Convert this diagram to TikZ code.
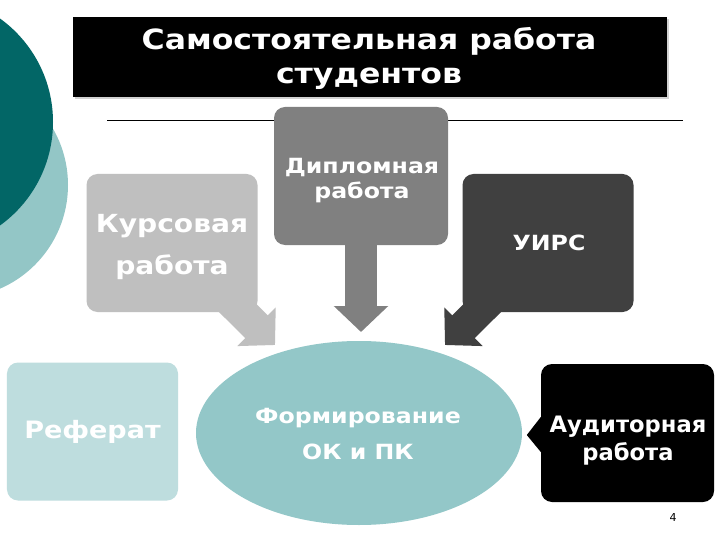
\documentclass[tikz,border=0pt]{standalone}
\usepackage{fontspec}
\setmainfont{DejaVu Sans}
\newfontfamily\widefont{DejaVu Sans}[FakeStretch=1.13]
\usetikzlibrary{shapes.geometric,arrows.meta,shadows,calc}
\definecolor{tealdark}{RGB}{2,102,102}
\definecolor{teallight}{RGB}{147,198,198}
\definecolor{tealpale}{RGB}{190,221,222}
\definecolor{ellfill}{RGB}{147,199,200}
\definecolor{gkurs}{RGB}{191,191,191}
\definecolor{gdipl}{RGB}{128,128,128}
\definecolor{guirs}{RGB}{64,64,64}
\tikzset{
  rbox/.style={rectangle, rounded corners=11bp, draw=none, minimum width=171bp, minimum height=138bp, inner sep=0pt},
  wtext/.style={text=white, align=center, inner sep=0pt},
  fatarrow/.style={line width=32bp, -{Triangle[width=53bp,length=26bp]}},
}
\begin{document}
\begin{tikzpicture}[x=1bp,y=-1bp]
\useasboundingbox (0,0) rectangle (720,540);
\fill[white] (0,0) rectangle (720,540);
% decorative circles
\begin{scope}
  \clip (0,0) rectangle (720,540);
  \fill[teallight] (-45,185) circle[radius=113];
  \fill[tealdark] (-74.5,122) circle[radius=127.5];
\end{scope}
% title
\node[rectangle, fill=black, minimum width=594bp, minimum height=80bp, inner sep=0pt,
      drop shadow={shadow xshift=2bp, shadow yshift=-2bp, opacity=0.35}] (title) at (370,57) {};
\node[wtext, font=\widefont\fontsize{28}{35}\selectfont\bfseries] (titletext) at (369,58.5)
  {Самостоятельная работа\\студентов};
% rule
\coordinate (ruleL) at (107,120);
\coordinate (ruleR) at (683,120);
\draw[line width=0.8bp] (ruleL) -- (ruleR);
% arrow tips
\coordinate (ktip) at (275,345);
\coordinate (dtip) at (361,332);
\coordinate (utip) at (445,345);
% boxes
\coordinate (kc) at (172,243);
\coordinate (dc) at (361,176);
\coordinate (uc) at (548,243);
\draw[fatarrow, gkurs] (kc) -- (ktip);
\draw[fatarrow, gdipl] (dc) -- (dtip);
\draw[fatarrow, guirs] (uc) -- (utip);
\node[rbox, fill=gkurs] (kurs) at (kc) {};
\node[rbox, fill=gdipl, minimum width=174bp] (dipl) at (dc) {};
\node[rbox, fill=guirs] (uirs) at (uc) {};
\node[wtext, font=\widefont\fontsize{25}{42}\selectfont\bfseries] (kurstext) at (172,247) {Курсовая\\работа};
\node[wtext, font=\widefont\fontsize{21}{25}\selectfont\bfseries] (dipltext) at (362,181) {Дипломная\\работа};
\node[wtext, font=\widefont\fontsize{21}{25}\selectfont\bfseries] (uirstext) at (549,243) {УИРС};
% centre ellipse
\node[ellipse, fill=ellfill, minimum width=326bp, minimum height=184bp, inner sep=0pt] (form) at (359,433) {};
\node[wtext, font=\widefont\fontsize{21}{37}\selectfont\bfseries] (formtext) at (358,434) {Формирование\\ОК и ПК};
% Referat
\node[rbox, fill=tealpale] (ref) at (92.5,431.5) {};
\node[wtext, font=\widefont\fontsize{24}{28}\selectfont\bfseries] (reftext) at (92.5,432) {Реферат};
% Auditornaya
\node[rbox, fill=black, minimum width=173bp] (aud) at (627.5,433) {};
\fill[black] ($(aud.west)+(0,-16)$) -- ($(aud.west)+(-14,2)$) -- ($(aud.west)+(0,19)$) -- cycle;
\node[wtext, font=\fontsize{22.7}{28}\selectfont\bfseries] (audtext) at (628,441) {Аудиторная\\работа};
% page number
\node[inner sep=0pt, font=\fontsize{11}{13}\selectfont] (pnum) at (673,518) {4};
\end{tikzpicture}
\end{document}
